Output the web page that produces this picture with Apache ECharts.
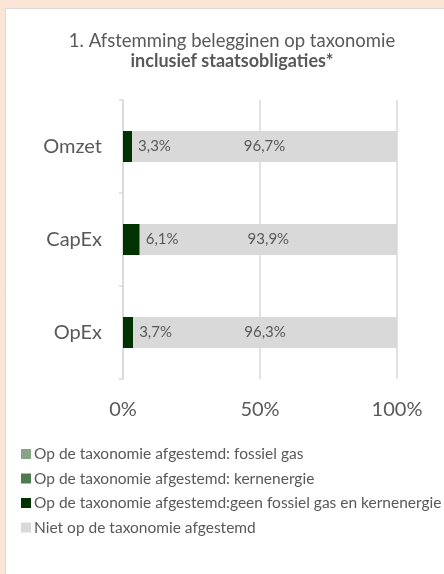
<!DOCTYPE html>
<html>
<head>
<meta charset="utf-8">
<script src="https://cdn.jsdelivr.net/npm/echarts@6/dist/echarts.min.js"></script>
<style>
  html, body { margin: 0; padding: 0; background: #FBE5D6; }
  #main { width: 444px; height: 574px; }
</style>
</head>
<body>
<div id="main"></div>
<script>
// categorieën en waarden (procenten)
var categories = ['Omzet', 'CapEx', 'OpEx'];
var fossielGas = [0, 0, 0];
var kernenergie = [0, 0, 0];
var geenFossielKern = [3.3, 6.1, 3.7];
var nietAfgestemd = [96.7, 93.9, 96.3];
var xTicks = [0, 50, 100];

var seriesNames = [
  'Op de taxonomie afgestemd: fossiel gas',
  'Op de taxonomie afgestemd: kernenergie',
  'Op de taxonomie afgestemd:geen fossiel gas en kernenergie',
  'Niet op de taxonomie afgestemd'
];

var fontFam = 'Lato';
var grijs = '#595959';

function pct(p) {
  return p.value.toFixed(1).replace('.', ',') + '%';
}

var chart = echarts.init(document.getElementById('main'));

var option = {
  backgroundColor: 'transparent',
  textStyle: { fontFamily: fontFam },
  graphic: [{
    type: 'rect',
    z: -10,
    shape: { x: 5.5, y: 8.5, width: 460, height: 600 },
    style: { fill: '#ffffff', stroke: '#D9D9D9', lineWidth: 1 }
  }],
  title: {
    text: '1. Afstemming belegginen op taxonomie',
    subtext: 'inclusief staatsobligaties*',
    left: 227,
    top: 27,
    textAlign: 'center',
    itemGap: 1,
    textStyle: { color: grijs, fontSize: 18.5, fontWeight: 'normal', fontFamily: fontFam },
    subtextStyle: { color: grijs, fontSize: 18, fontWeight: 'bold', fontFamily: fontFam }
  },
  legend: {
    data: seriesNames,
    orient: 'vertical',
    left: 16,
    top: 441,
    itemWidth: 10,
    itemHeight: 10,
    itemGap: 8.5,
    icon: 'rect',
    textStyle: { color: grijs, fontSize: 15.5, lineHeight: 15, padding: [0, 0, 0, -2], fontFamily: fontFam }
  },
  grid: { left: 123, right: 47, top: 100, bottom: 195, containLabel: false },
  xAxis: {
    type: 'value',
    min: 0,
    max: 100,
    interval: 50,
    axisLine: { show: false },
    axisTick: { show: false },
    splitLine: { lineStyle: { color: '#D9D9D9', width: 1.5 } },
    axisLabel: {
      color: grijs, fontSize: 20, margin: 21,
      formatter: function (v) { return xTicks.indexOf(v) >= 0 ? v + '%' : ''; }
    }
  },
  yAxis: {
    type: 'category',
    data: categories,
    inverse: true,
    axisLine: { show: true, lineStyle: { color: '#D9D9D9', width: 1.5 } },
    axisTick: { show: true, length: 4, lineStyle: { color: '#D9D9D9', width: 1.5 } },
    axisLabel: { color: grijs, fontSize: 20, margin: 21 }
  },
  series: [
    {
      name: seriesNames[0], type: 'bar', stack: 'tot', barWidth: 31,
      itemStyle: { color: '#87A487' }, data: fossielGas
    },
    {
      name: seriesNames[1], type: 'bar', stack: 'tot', barWidth: 31,
      itemStyle: { color: '#4F7A4F' }, data: kernenergie
    },
    {
      name: seriesNames[2], type: 'bar', stack: 'tot', barWidth: 31,
      itemStyle: { color: '#003300' }, data: geenFossielKern,
      label: { show: true, position: 'right', distance: 6, color: grijs, fontSize: 15, formatter: pct }
    },
    {
      name: seriesNames[3], type: 'bar', stack: 'tot', barWidth: 31,
      itemStyle: { color: '#D9D9D9' }, data: nietAfgestemd,
      label: { show: true, position: 'inside', color: grijs, fontSize: 15, formatter: pct }
    }
  ]
};

chart.setOption(option);
</script>
</body>
</html>
